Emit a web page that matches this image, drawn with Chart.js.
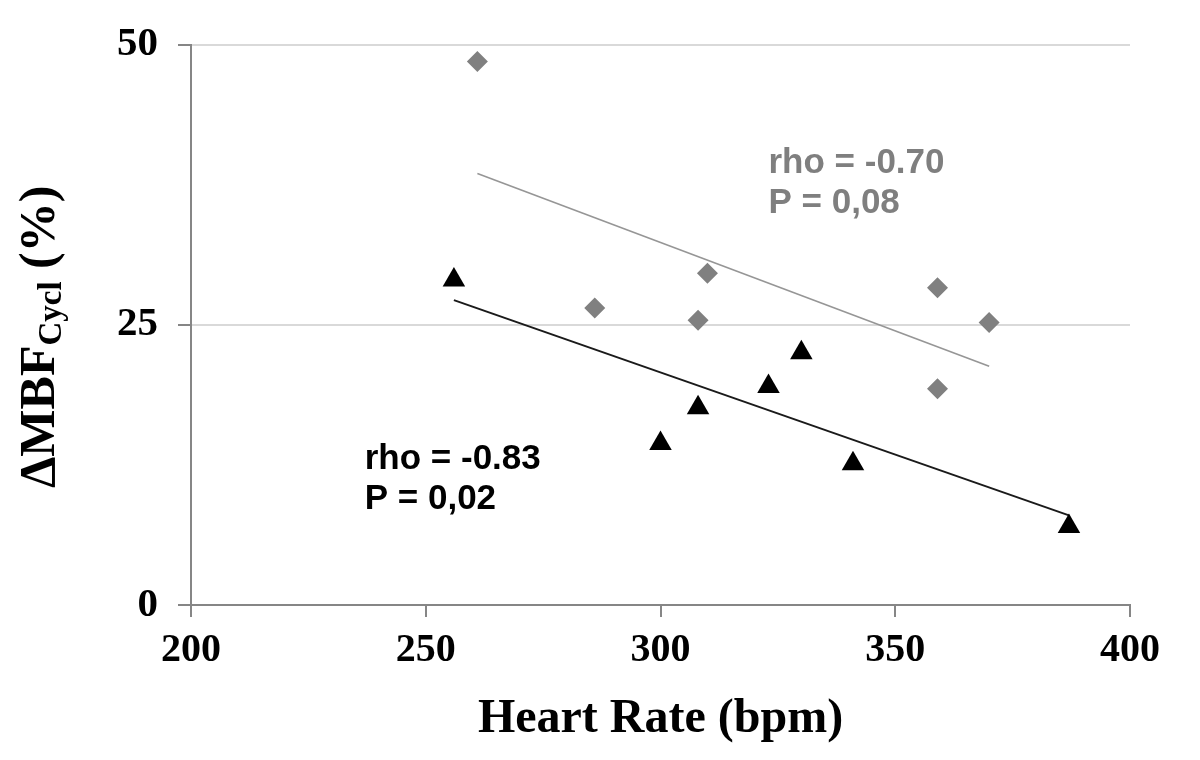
<!DOCTYPE html>
<html><head><meta charset="utf-8">
<script src="https://cdn.jsdelivr.net/npm/chart.js@4.4.1/dist/chart.umd.min.js"></script>
<style>html,body{margin:0;padding:0;background:#fff;}#wrap{width:1200px;height:760px;position:relative;}</style>
</head><body><div id="wrap"><canvas id="c" width="1200" height="760"></canvas></div>
<script>
// ---- data ----
const xTicks = [200, 250, 300, 350, 400];
const yTicks = [0, 25, 50];
const hrGray = [261, 286, 310, 308, 359, 359, 370];
const mbfGray = [48.5, 26.5, 29.6, 25.4, 28.3, 19.3, 25.2];
const hrBlack = [256, 300, 308, 323, 330, 341, 387];
const mbfBlack = [29.0, 14.4, 17.6, 19.5, 22.5, 12.6, 7.0];
const trendGrayX = [261, 370];
const trendGrayY = [38.5, 21.3];
const trendBlackX = [256, 387];
const trendBlackY = [27.2, 8.0];
const annGray = ['rho = -0.70', 'P = 0,08'];
const annBlack = ['rho = -0.83', 'P = 0,02'];
const annGrayAt = [323, 39.4];
const annBlackAt = [237, 13.0];
const xTitle = 'Heart Rate (bpm)';
const yTitleMain = '\u0394MBF', yTitleSub = 'Cycl', yTitleEnd = ' (%)';

const pts = (xs, ys) => xs.map((x, i) => ({x: x, y: ys[i]}));
const serif = 'Liberation Serif, Times New Roman, serif';
const sans = 'Liberation Sans, Arial, sans-serif';

const extras = {
  id: 'extras',
  afterDraw(chart) {
    const c = chart.ctx, xs = chart.scales.x, ys = chart.scales.y;
    c.save();
    c.font = 'bold 35px ' + sans;
    c.textAlign = 'left';
    c.textBaseline = 'middle';
    const drawAnn = (lines, at, col) => {
      const px = xs.getPixelForValue(at[0]), py = ys.getPixelForValue(at[1]);
      c.fillStyle = col;
      lines.forEach((t, i) => c.fillText(t, px, py + i * 40));
    };
    drawAnn(annGray, annGrayAt, '#7f7f7f');
    drawAnn(annBlack, annBlackAt, '#000000');
    // rotated y-axis title with subscript
    const big = 'bold 50px ' + serif, small = 'bold 33px ' + serif;
    c.font = big; const w1 = c.measureText(yTitleMain).width; const w3 = c.measureText(yTitleEnd).width;
    c.font = small; const w2 = c.measureText(yTitleSub).width;
    const total = w1 + w2 + w3;
    const cy = (ys.top + ys.bottom) / 2 + 12;
    c.translate(54, cy);
    c.rotate(-Math.PI / 2);
    c.fillStyle = '#000';
    c.textBaseline = 'alphabetic';
    let x0 = -total / 2;
    c.font = big; c.fillText(yTitleMain, x0, 0); x0 += w1;
    c.font = small; c.fillText(yTitleSub, x0, 7); x0 += w2;
    c.font = big; c.fillText(yTitleEnd, x0, 0);
    c.restore();
  }
};

new Chart(document.getElementById('c'), {
  type: 'scatter',
  data: {
    datasets: [
      {label: 'trend gray', type: 'line', data: pts(trendGrayX, trendGrayY), borderColor: '#969696', borderWidth: 1.6, pointRadius: 0, fill: false, order: 3},
      {label: 'trend black', type: 'line', data: pts(trendBlackX, trendBlackY), borderColor: '#1a1a1a', borderWidth: 2, pointRadius: 0, fill: false, order: 3},
      {label: 'gray', data: pts(hrGray, mbfGray), pointStyle: 'rectRot', pointRadius: 10.5, backgroundColor: '#808080', borderColor: '#808080', borderWidth: 0, order: 1},
      {label: 'black', data: pts(hrBlack, mbfBlack), pointStyle: 'triangle', pointRadius: 13, backgroundColor: '#000', borderColor: '#000', borderWidth: 0, order: 1}
    ]
  },
  options: {
    responsive: false, animation: false, devicePixelRatio: 1,
    layout: {padding: {left: 0, top: 41, right: 70, bottom: 0}},
    plugins: {legend: {display: false}, tooltip: {enabled: false}},
    scales: {
      x: {
        type: 'linear', min: 200, max: 400,
        afterBuildTicks: s => { s.ticks = xTicks.map(v => ({value: v})); },
        afterFit: s => { s.height = 155; },
        grid: {drawOnChartArea: false, drawTicks: true, tickLength: 12, tickColor: '#868686', lineWidth: 2},
        border: {color: '#868686', width: 2},
        ticks: {font: {family: serif, weight: 'bold', size: 40}, color: '#000', padding: 10, maxRotation: 0},
        title: {display: true, text: xTitle, font: {family: serif, weight: 'bold', size: 48}, color: '#000', padding: {top: 0, bottom: 12}}
      },
      y: {
        type: 'linear', min: 0, max: 50,
        afterBuildTicks: s => { s.ticks = yTicks.map(v => ({value: v})); },
        afterFit: s => { s.width = 191; },
        grid: {color: '#d9d9d9', lineWidth: 2, drawTicks: true, tickLength: 13, tickColor: '#868686'},
        border: {color: '#868686', width: 2},
        ticks: {font: {family: serif, weight: 'bold', size: 41}, color: '#000', padding: 20}
      }
    }
  },
  plugins: [extras]
});
</script></body></html>
